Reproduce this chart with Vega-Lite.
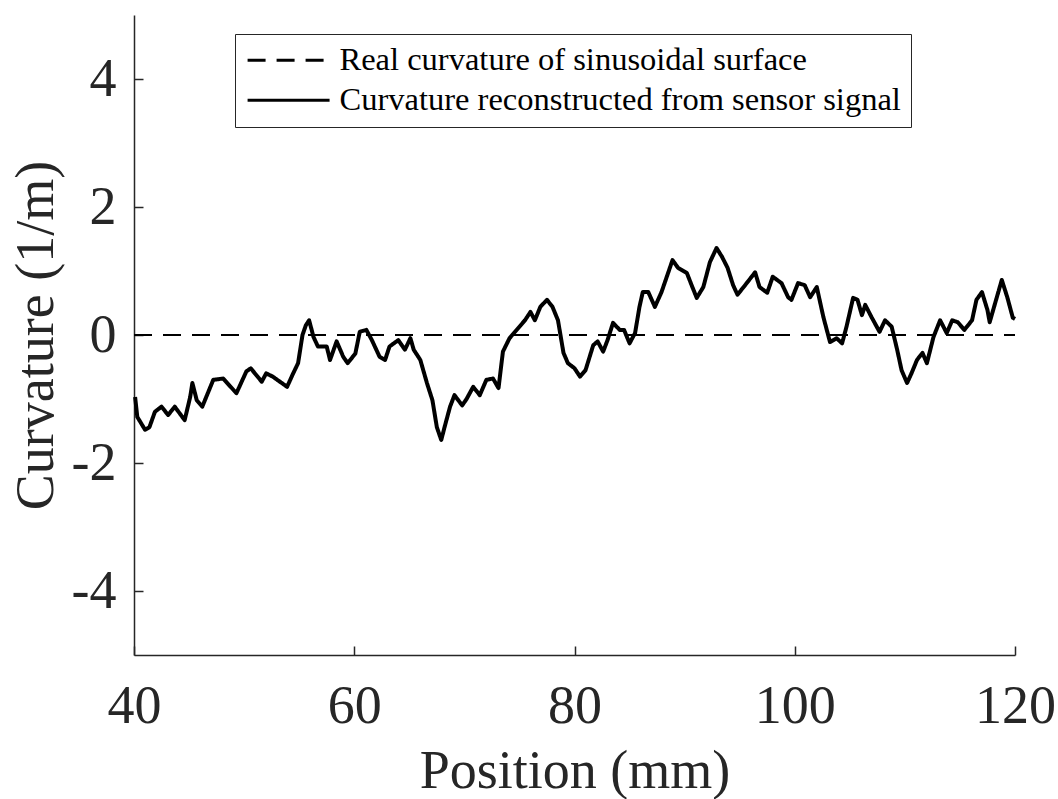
{
  "$schema": "https://vega.github.io/schema/vega-lite/v6.json",
  "width": 881,
  "height": 640,
  "autosize": {"type": "none"},
  "padding": {"left": 134, "top": 15, "right": 43, "bottom": 144},
  "background": "white",
  "config": {
    "view": {"stroke": null},
    "font": "Liberation Serif",
    "axis": {
      "grid": false,
      "domainColor": "#262626",
      "domainWidth": 1.5,
      "tickColor": "#262626",
      "tickWidth": 1.5,
      "tickSize": -9,
      "labelColor": "#262626",
      "labelFont": "Liberation Serif",
      "labelFontSize": 54,
      "titleColor": "#262626",
      "titleFont": "Liberation Serif",
      "titleFontSize": 54,
      "titleFontWeight": "normal",
      "labelFlush": false,
      "labelOverlap": false
    }
  },
  "data": {
    "values": [
      {"x": 40, "y": 0, "series": "Real curvature of sinusoidal surface"},
      {"x": 120, "y": 0, "series": "Real curvature of sinusoidal surface"},
      {"x": 40.1, "y": -0.97, "series": "Curvature reconstructed from sensor signal"},
      {"x": 40.3, "y": -1.28, "series": "Curvature reconstructed from sensor signal"},
      {"x": 41.0, "y": -1.48, "series": "Curvature reconstructed from sensor signal"},
      {"x": 41.4, "y": -1.44, "series": "Curvature reconstructed from sensor signal"},
      {"x": 41.9, "y": -1.2, "series": "Curvature reconstructed from sensor signal"},
      {"x": 42.5, "y": -1.12, "series": "Curvature reconstructed from sensor signal"},
      {"x": 43.1, "y": -1.25, "series": "Curvature reconstructed from sensor signal"},
      {"x": 43.7, "y": -1.12, "series": "Curvature reconstructed from sensor signal"},
      {"x": 44.6, "y": -1.33, "series": "Curvature reconstructed from sensor signal"},
      {"x": 45.1, "y": -0.97, "series": "Curvature reconstructed from sensor signal"},
      {"x": 45.3, "y": -0.75, "series": "Curvature reconstructed from sensor signal"},
      {"x": 45.7, "y": -1.02, "series": "Curvature reconstructed from sensor signal"},
      {"x": 46.2, "y": -1.12, "series": "Curvature reconstructed from sensor signal"},
      {"x": 47.2, "y": -0.7, "series": "Curvature reconstructed from sensor signal"},
      {"x": 48.1, "y": -0.68, "series": "Curvature reconstructed from sensor signal"},
      {"x": 49.3, "y": -0.91, "series": "Curvature reconstructed from sensor signal"},
      {"x": 50.2, "y": -0.57, "series": "Curvature reconstructed from sensor signal"},
      {"x": 50.6, "y": -0.52, "series": "Curvature reconstructed from sensor signal"},
      {"x": 51.6, "y": -0.73, "series": "Curvature reconstructed from sensor signal"},
      {"x": 52.0, "y": -0.6, "series": "Curvature reconstructed from sensor signal"},
      {"x": 52.6, "y": -0.65, "series": "Curvature reconstructed from sensor signal"},
      {"x": 53.9, "y": -0.81, "series": "Curvature reconstructed from sensor signal"},
      {"x": 54.4, "y": -0.62, "series": "Curvature reconstructed from sensor signal"},
      {"x": 54.9, "y": -0.44, "series": "Curvature reconstructed from sensor signal"},
      {"x": 55.3, "y": 0.0, "series": "Curvature reconstructed from sensor signal"},
      {"x": 55.6, "y": 0.15, "series": "Curvature reconstructed from sensor signal"},
      {"x": 55.9, "y": 0.23, "series": "Curvature reconstructed from sensor signal"},
      {"x": 56.3, "y": -0.03, "series": "Curvature reconstructed from sensor signal"},
      {"x": 56.7, "y": -0.18, "series": "Curvature reconstructed from sensor signal"},
      {"x": 57.5, "y": -0.18, "series": "Curvature reconstructed from sensor signal"},
      {"x": 57.8, "y": -0.39, "series": "Curvature reconstructed from sensor signal"},
      {"x": 58.4, "y": -0.1, "series": "Curvature reconstructed from sensor signal"},
      {"x": 59.0, "y": -0.34, "series": "Curvature reconstructed from sensor signal"},
      {"x": 59.4, "y": -0.44, "series": "Curvature reconstructed from sensor signal"},
      {"x": 60.1, "y": -0.29, "series": "Curvature reconstructed from sensor signal"},
      {"x": 60.5, "y": 0.05, "series": "Curvature reconstructed from sensor signal"},
      {"x": 61.1, "y": 0.08, "series": "Curvature reconstructed from sensor signal"},
      {"x": 61.6, "y": -0.08, "series": "Curvature reconstructed from sensor signal"},
      {"x": 62.3, "y": -0.34, "series": "Curvature reconstructed from sensor signal"},
      {"x": 62.8, "y": -0.39, "series": "Curvature reconstructed from sensor signal"},
      {"x": 63.2, "y": -0.18, "series": "Curvature reconstructed from sensor signal"},
      {"x": 64.0, "y": -0.08, "series": "Curvature reconstructed from sensor signal"},
      {"x": 64.6, "y": -0.23, "series": "Curvature reconstructed from sensor signal"},
      {"x": 65.1, "y": -0.05, "series": "Curvature reconstructed from sensor signal"},
      {"x": 65.4, "y": -0.23, "series": "Curvature reconstructed from sensor signal"},
      {"x": 66.0, "y": -0.39, "series": "Curvature reconstructed from sensor signal"},
      {"x": 66.6, "y": -0.75, "series": "Curvature reconstructed from sensor signal"},
      {"x": 67.1, "y": -1.02, "series": "Curvature reconstructed from sensor signal"},
      {"x": 67.5, "y": -1.44, "series": "Curvature reconstructed from sensor signal"},
      {"x": 67.9, "y": -1.64, "series": "Curvature reconstructed from sensor signal"},
      {"x": 68.2, "y": -1.44, "series": "Curvature reconstructed from sensor signal"},
      {"x": 68.7, "y": -1.12, "series": "Curvature reconstructed from sensor signal"},
      {"x": 69.1, "y": -0.94, "series": "Curvature reconstructed from sensor signal"},
      {"x": 69.8, "y": -1.1, "series": "Curvature reconstructed from sensor signal"},
      {"x": 70.2, "y": -1.0, "series": "Curvature reconstructed from sensor signal"},
      {"x": 70.8, "y": -0.81, "series": "Curvature reconstructed from sensor signal"},
      {"x": 71.4, "y": -0.94, "series": "Curvature reconstructed from sensor signal"},
      {"x": 72.0, "y": -0.7, "series": "Curvature reconstructed from sensor signal"},
      {"x": 72.6, "y": -0.68, "series": "Curvature reconstructed from sensor signal"},
      {"x": 73.1, "y": -0.83, "series": "Curvature reconstructed from sensor signal"},
      {"x": 73.5, "y": -0.26, "series": "Curvature reconstructed from sensor signal"},
      {"x": 74.1, "y": -0.05, "series": "Curvature reconstructed from sensor signal"},
      {"x": 74.9, "y": 0.11, "series": "Curvature reconstructed from sensor signal"},
      {"x": 75.5, "y": 0.23, "series": "Curvature reconstructed from sensor signal"},
      {"x": 76.0, "y": 0.36, "series": "Curvature reconstructed from sensor signal"},
      {"x": 76.4, "y": 0.23, "series": "Curvature reconstructed from sensor signal"},
      {"x": 76.9, "y": 0.44, "series": "Curvature reconstructed from sensor signal"},
      {"x": 77.5, "y": 0.55, "series": "Curvature reconstructed from sensor signal"},
      {"x": 78.0, "y": 0.44, "series": "Curvature reconstructed from sensor signal"},
      {"x": 78.5, "y": 0.23, "series": "Curvature reconstructed from sensor signal"},
      {"x": 79.0, "y": -0.28, "series": "Curvature reconstructed from sensor signal"},
      {"x": 79.4, "y": -0.44, "series": "Curvature reconstructed from sensor signal"},
      {"x": 80.0, "y": -0.52, "series": "Curvature reconstructed from sensor signal"},
      {"x": 80.5, "y": -0.65, "series": "Curvature reconstructed from sensor signal"},
      {"x": 81.0, "y": -0.55, "series": "Curvature reconstructed from sensor signal"},
      {"x": 81.7, "y": -0.16, "series": "Curvature reconstructed from sensor signal"},
      {"x": 82.1, "y": -0.1, "series": "Curvature reconstructed from sensor signal"},
      {"x": 82.6, "y": -0.26, "series": "Curvature reconstructed from sensor signal"},
      {"x": 83.0, "y": -0.08, "series": "Curvature reconstructed from sensor signal"},
      {"x": 83.5, "y": 0.19, "series": "Curvature reconstructed from sensor signal"},
      {"x": 84.1, "y": 0.08, "series": "Curvature reconstructed from sensor signal"},
      {"x": 84.5, "y": 0.08, "series": "Curvature reconstructed from sensor signal"},
      {"x": 85.0, "y": -0.13, "series": "Curvature reconstructed from sensor signal"},
      {"x": 85.5, "y": 0.03, "series": "Curvature reconstructed from sensor signal"},
      {"x": 85.9, "y": 0.44, "series": "Curvature reconstructed from sensor signal"},
      {"x": 86.2, "y": 0.67, "series": "Curvature reconstructed from sensor signal"},
      {"x": 86.7, "y": 0.67, "series": "Curvature reconstructed from sensor signal"},
      {"x": 87.3, "y": 0.44, "series": "Curvature reconstructed from sensor signal"},
      {"x": 87.9, "y": 0.67, "series": "Curvature reconstructed from sensor signal"},
      {"x": 88.5, "y": 0.97, "series": "Curvature reconstructed from sensor signal"},
      {"x": 88.9, "y": 1.17, "series": "Curvature reconstructed from sensor signal"},
      {"x": 89.4, "y": 1.05, "series": "Curvature reconstructed from sensor signal"},
      {"x": 90.2, "y": 0.97, "series": "Curvature reconstructed from sensor signal"},
      {"x": 90.7, "y": 0.75, "series": "Curvature reconstructed from sensor signal"},
      {"x": 91.1, "y": 0.58, "series": "Curvature reconstructed from sensor signal"},
      {"x": 91.7, "y": 0.75, "series": "Curvature reconstructed from sensor signal"},
      {"x": 92.3, "y": 1.14, "series": "Curvature reconstructed from sensor signal"},
      {"x": 92.9, "y": 1.36, "series": "Curvature reconstructed from sensor signal"},
      {"x": 93.4, "y": 1.22, "series": "Curvature reconstructed from sensor signal"},
      {"x": 93.9, "y": 1.05, "series": "Curvature reconstructed from sensor signal"},
      {"x": 94.4, "y": 0.78, "series": "Curvature reconstructed from sensor signal"},
      {"x": 94.8, "y": 0.63, "series": "Curvature reconstructed from sensor signal"},
      {"x": 95.5, "y": 0.78, "series": "Curvature reconstructed from sensor signal"},
      {"x": 96.4, "y": 0.98, "series": "Curvature reconstructed from sensor signal"},
      {"x": 96.8, "y": 0.75, "series": "Curvature reconstructed from sensor signal"},
      {"x": 97.5, "y": 0.66, "series": "Curvature reconstructed from sensor signal"},
      {"x": 98.0, "y": 0.91, "series": "Curvature reconstructed from sensor signal"},
      {"x": 98.8, "y": 0.81, "series": "Curvature reconstructed from sensor signal"},
      {"x": 99.4, "y": 0.59, "series": "Curvature reconstructed from sensor signal"},
      {"x": 99.7, "y": 0.55, "series": "Curvature reconstructed from sensor signal"},
      {"x": 100.3, "y": 0.81, "series": "Curvature reconstructed from sensor signal"},
      {"x": 100.9, "y": 0.78, "series": "Curvature reconstructed from sensor signal"},
      {"x": 101.4, "y": 0.59, "series": "Curvature reconstructed from sensor signal"},
      {"x": 102.0, "y": 0.75, "series": "Curvature reconstructed from sensor signal"},
      {"x": 102.6, "y": 0.28, "series": "Curvature reconstructed from sensor signal"},
      {"x": 103.2, "y": -0.11, "series": "Curvature reconstructed from sensor signal"},
      {"x": 103.8, "y": -0.05, "series": "Curvature reconstructed from sensor signal"},
      {"x": 104.3, "y": -0.13, "series": "Curvature reconstructed from sensor signal"},
      {"x": 104.7, "y": 0.13, "series": "Curvature reconstructed from sensor signal"},
      {"x": 105.3, "y": 0.58, "series": "Curvature reconstructed from sensor signal"},
      {"x": 105.7, "y": 0.55, "series": "Curvature reconstructed from sensor signal"},
      {"x": 106.1, "y": 0.31, "series": "Curvature reconstructed from sensor signal"},
      {"x": 106.4, "y": 0.47, "series": "Curvature reconstructed from sensor signal"},
      {"x": 107.0, "y": 0.27, "series": "Curvature reconstructed from sensor signal"},
      {"x": 107.7, "y": 0.05, "series": "Curvature reconstructed from sensor signal"},
      {"x": 108.2, "y": 0.23, "series": "Curvature reconstructed from sensor signal"},
      {"x": 108.8, "y": 0.13, "series": "Curvature reconstructed from sensor signal"},
      {"x": 109.3, "y": -0.23, "series": "Curvature reconstructed from sensor signal"},
      {"x": 109.7, "y": -0.55, "series": "Curvature reconstructed from sensor signal"},
      {"x": 110.2, "y": -0.75, "series": "Curvature reconstructed from sensor signal"},
      {"x": 110.6, "y": -0.6, "series": "Curvature reconstructed from sensor signal"},
      {"x": 111.1, "y": -0.39, "series": "Curvature reconstructed from sensor signal"},
      {"x": 111.6, "y": -0.28, "series": "Curvature reconstructed from sensor signal"},
      {"x": 112.0, "y": -0.44, "series": "Curvature reconstructed from sensor signal"},
      {"x": 112.6, "y": -0.03, "series": "Curvature reconstructed from sensor signal"},
      {"x": 113.2, "y": 0.23, "series": "Curvature reconstructed from sensor signal"},
      {"x": 113.8, "y": 0.03, "series": "Curvature reconstructed from sensor signal"},
      {"x": 114.3, "y": 0.23, "series": "Curvature reconstructed from sensor signal"},
      {"x": 114.8, "y": 0.2, "series": "Curvature reconstructed from sensor signal"},
      {"x": 115.4, "y": 0.08, "series": "Curvature reconstructed from sensor signal"},
      {"x": 116.1, "y": 0.23, "series": "Curvature reconstructed from sensor signal"},
      {"x": 116.5, "y": 0.55, "series": "Curvature reconstructed from sensor signal"},
      {"x": 117.0, "y": 0.67, "series": "Curvature reconstructed from sensor signal"},
      {"x": 117.5, "y": 0.39, "series": "Curvature reconstructed from sensor signal"},
      {"x": 117.7, "y": 0.2, "series": "Curvature reconstructed from sensor signal"},
      {"x": 118.2, "y": 0.5, "series": "Curvature reconstructed from sensor signal"},
      {"x": 118.8, "y": 0.86, "series": "Curvature reconstructed from sensor signal"},
      {"x": 119.3, "y": 0.59, "series": "Curvature reconstructed from sensor signal"},
      {"x": 119.8, "y": 0.27, "series": "Curvature reconstructed from sensor signal"},
      {"x": 120.0, "y": 0.25, "series": "Curvature reconstructed from sensor signal"}
    ]
  },
  "encoding": {
    "x": {
      "field": "x",
      "type": "quantitative",
      "scale": {"domain": [40, 120], "nice": false, "zero": false},
      "axis": {"title": "Position (mm)", "values": [40, 60, 80, 100, 120], "labelPadding": 33, "titlePadding": 11}
    },
    "y": {
      "field": "y",
      "type": "quantitative",
      "scale": {"domain": [-5, 5], "nice": false},
      "axis": {"title": "Curvature (1/m)", "values": [-4, -2, 0, 2, 4], "labelExpr": "'' + datum.value", "labelPadding": 27, "titlePadding": 8}
    },
    "strokeDash": {
      "field": "series",
      "type": "nominal",
      "scale": {
        "domain": ["Real curvature of sinusoidal surface", "Curvature reconstructed from sensor signal"],
        "range": [[18, 11], [1, 0]]
      },
      "legend": {
        "title": null,
        "orient": "none",
        "legendX": 101,
        "legendY": 19,
        "labelFont": "Liberation Serif",
        "labelFontSize": 32.5,
        "labelColor": "black",
        "labelLimit": 1000,
        "labelOffset": 62,
        "symbolType": "M-1,0H5",
        "symbolSize": 747,
        "symbolStrokeColor": "black",
        "symbolStrokeWidth": 3,
        "rowPadding": 7,
        "padding": 10,
        "strokeColor": "#262626",
        "fillColor": "white"
      }
    }
  },
  "layer": [
    {
      "transform": [{"filter": "datum.series === 'Real curvature of sinusoidal surface'"}],
      "mark": {"type": "line", "color": "black", "strokeWidth": 1.8}
    },
    {
      "transform": [{"filter": "datum.series === 'Curvature reconstructed from sensor signal'"}],
      "mark": {"type": "line", "color": "black", "strokeWidth": 4, "strokeJoin": "round"}
    }
  ]
}
